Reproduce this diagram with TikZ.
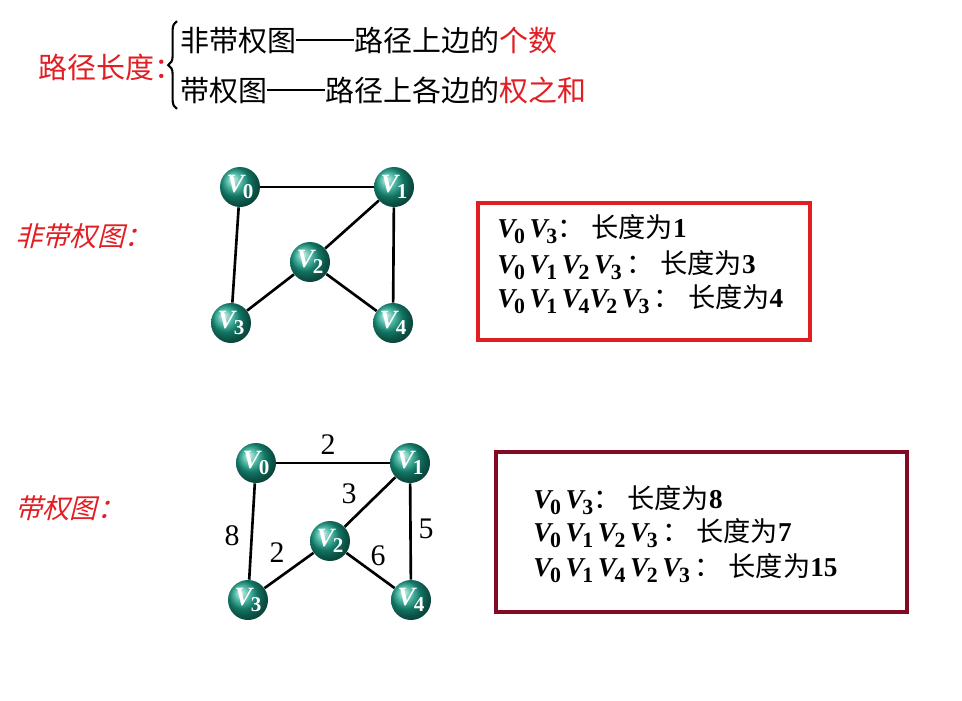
\documentclass[tikz,border=0pt]{standalone}
\usepackage{fontspec}
\setmainfont{Liberation Serif}
\newfontfamily\cjk{Noto Sans CJK SC}
\newfontfamily\cjkit[FakeSlant=0.25]{Noto Sans CJK SC}
\usetikzlibrary{positioning}
\usetikzlibrary{decorations.pathreplacing}
\definecolor{tred}{RGB}{225,30,35}
\definecolor{wine}{RGB}{130,10,35}
\definecolor{ballgreen}{RGB}{25,165,140}
\newcommand{\vs}[1]{{\bfseries\itshape V}\kern-0.05em\raisebox{-0.5ex}{\scalebox{0.8}{\bfseries #1}}}
\newcommand{\ldash}{\raisebox{0.36em}{\rule{2em}{0.06em}}}
\newcommand{\len}{{\cjk ：\kern0.25em 长度为}}

\begin{document}
\begin{tikzpicture}[
    x=0.02cm, y=-0.02cm,
    vert/.style={circle, ball color=ballgreen, minimum size=0.8cm, inner sep=0pt,
      text=white, font=\fontsize{15}{15}\selectfont},
    edge/.style={line width=1.5pt},
    wlab/.style={font=\fontsize{17}{17}\selectfont},
    line/.style={anchor=west, inner sep=0pt, font=\fontsize{15.5}{16}\selectfont},
    head/.style={anchor=west, inner sep=0pt, font=\fontsize{16.5}{18}\selectfont\cjk}
  ]
\useasboundingbox (0,0) rectangle (962,700);

% heading
\node[head, text=tred] (plen) at (38,67) {路径长度：};
\node[head] (h1) at (180,40) {非带权图\ldash 路径上边的\textcolor{tred}{个数}};
\node[head] (h2) at (180,90) {带权图\ldash 路径上各边的\textcolor{tred}{权之和}};
\draw[line width=1.2pt, decorate, decoration={brace, amplitude=5pt}]
  ([xshift=-0.06cm,yshift=-0.1cm]h2.south west) -- ([xshift=-0.06cm,yshift=0.1cm]h1.north west);

% graph without weights
\node[line, text=tred, font=\fontsize{15.5}{16}\selectfont\cjkit] (lab1) at (15,236) {非带权图：};
\node[vert] (v0) at (240,187) {\vs0};
\node[vert] (v1) at (394,187) {\vs1};
\node[vert] (v2) at (310,262) {\vs2};
\node[vert] (v3) at (231,323) {\vs3};
\node[vert] (v4) at (393,323) {\vs4};
\draw[edge] (v0) -- (v1); \draw[edge] (v0) -- (v3); \draw[edge] (v1) -- (v2);
\draw[edge] (v1) -- (v4); \draw[edge] (v2) -- (v3); \draw[edge] (v2) -- (v4);

\draw[tred, line width=2pt] (478,203) rectangle (810,340);
\node[line] (p1) at (497,229) {\vs0\,\vs3\len\textbf{1}};
\node[line] (p2) at (497,265) {\vs0\,\vs1\,\vs2\,\vs3\,\len\textbf{3}};
\node[line] (p3) at (497,299) {\vs0\,\vs1\,\vs4\vs2\,\vs3\,\len\textbf{4}};

% weighted graph
\node[line, text=tred, font=\fontsize{15.5}{16}\selectfont\cjkit] (lab2) at (15,508) {带权图：};
\node[vert] (w0) at (256,463) {\vs0};
\node[vert] (w1) at (410,463) {\vs1};
\node[vert] (w2) at (330,541) {\vs2};
\node[vert] (w3) at (248,600) {\vs3};
\node[vert] (w4) at (411,600) {\vs4};
\draw[edge] (w0) -- (w1); \draw[edge] (w0) -- (w3); \draw[edge] (w1) -- (w2);
\draw[edge] (w1) -- (w4); \draw[edge] (w2) -- (w3); \draw[edge] (w2) -- (w4);
\node[wlab] (c01) at (328,445) {2};
\node[wlab] (c12) at (349,494) {3};
\node[wlab] (c03) at (232,536) {8};
\node[wlab] (c23) at (277,553) {2};
\node[wlab] (c24) at (378,556) {6};
\node[wlab] (c14) at (426,529) {5};

\draw[wine, line width=2pt] (496,452) rectangle (907,612);
\node[line] (q1) at (533,500) {\vs0\,\vs3\len\textbf{8}};
\node[line] (q2) at (533,533) {\vs0\,\vs1\,\vs2\,\vs3\,\len\textbf{7}};
\node[line] (q3) at (533,568) {\vs0\,\vs1\,\vs4\,\vs2\,\vs3\,\len\textbf{15}};
\end{tikzpicture}
\end{document}
